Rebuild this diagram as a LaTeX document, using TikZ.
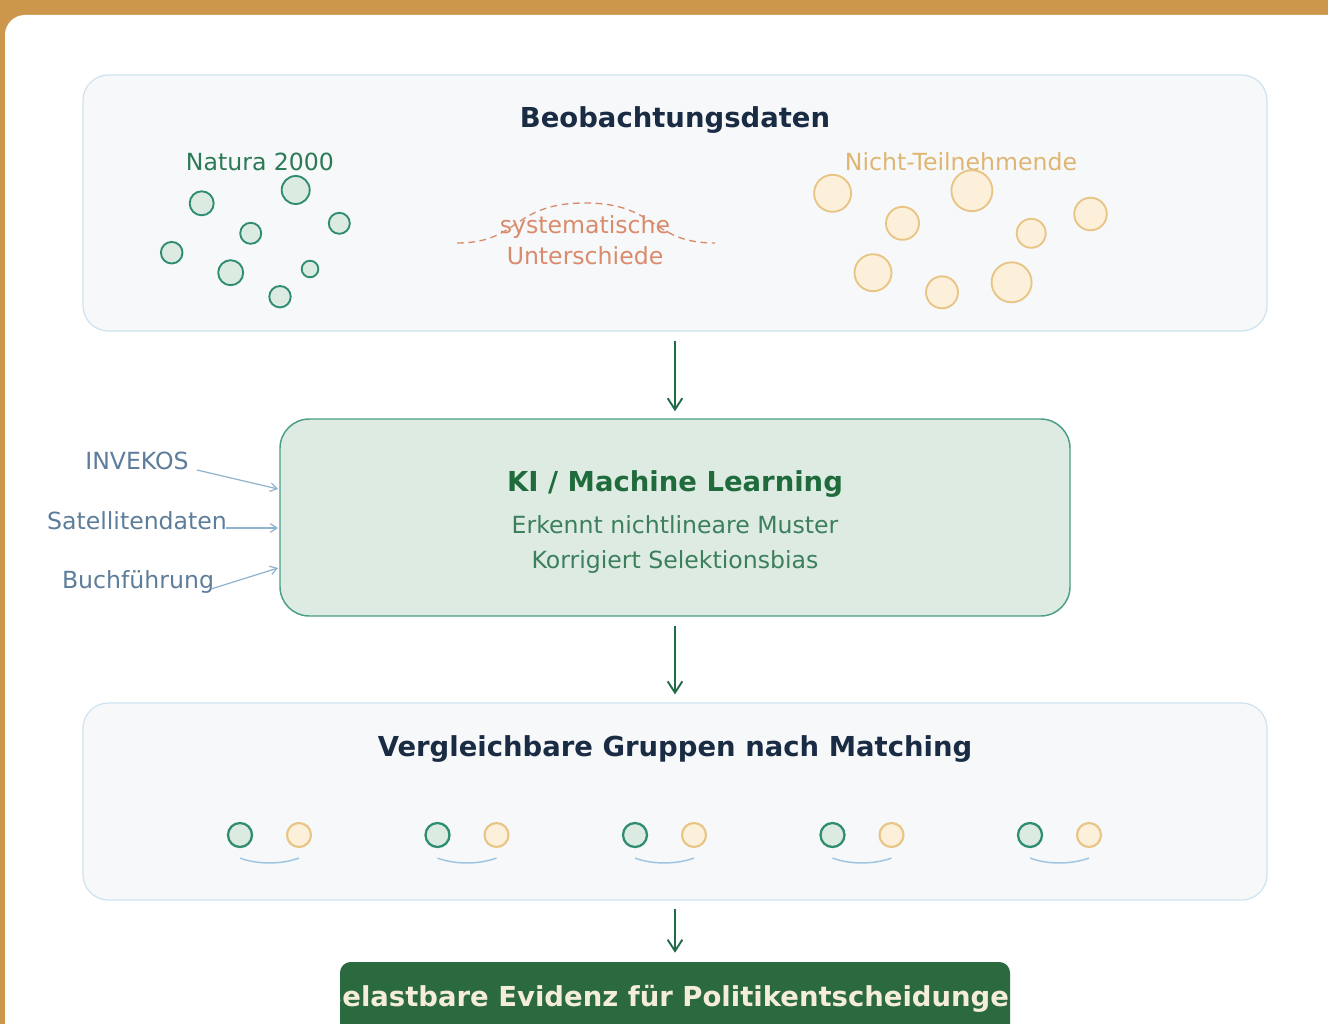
\documentclass[tikz,border=0pt]{standalone}
\usepackage{fontspec}
\setmainfont{DejaVu Sans}
\usetikzlibrary{arrows.meta}
\definecolor{bgorange}{HTML}{CC974B}
\definecolor{boxfill}{HTML}{F6F8FA}
\definecolor{boxline}{HTML}{CFE3EE}
\definecolor{navy}{HTML}{1A2B44}
\definecolor{natgreen}{HTML}{2B7A55}
\definecolor{gstroke}{HTML}{2E8C70}
\definecolor{gfill}{HTML}{DCEBE2}
\definecolor{otext}{HTML}{E0B571}
\definecolor{ostroke}{HTML}{E8C584}
\definecolor{ofill}{HTML}{FCF0DB}
\definecolor{salmon}{HTML}{D98B6C}
\definecolor{arrgreen}{HTML}{1F6B48}
\definecolor{mlfill}{HTML}{DEEBE2}
\definecolor{mlline}{HTML}{4A9F86}
\definecolor{kigreen}{HTML}{1F6B3C}
\definecolor{mltext}{HTML}{3C7F5C}
\definecolor{labtext}{HTML}{5E7D9A}
\definecolor{labarrow}{HTML}{8FB2CD}
\definecolor{evidfill}{HTML}{2B6A3E}
\definecolor{evidtext}{HTML}{F5EDDA}
\definecolor{arcblue}{HTML}{9EC6E2}
\begin{document}
\begin{tikzpicture}[x=0.75pt,y=-0.75pt,
  panel/.style={draw=boxline, fill=boxfill, line width=0.9pt, rounded corners=19pt, inner sep=0pt, minimum width=888pt},
  txt/.style={inner sep=0pt, text height=0.73em, text depth=0pt, yshift=-2.6pt, font=\fontsize{17.7}{21}\selectfont},
  ttl/.style={inner sep=0pt, text height=0.73em, text depth=0pt, yshift=-3.6pt, font=\fontsize{20.6}{25}\selectfont\bfseries},
  gdot/.style={draw=gstroke, fill=gfill, line width=1.4pt},
  odot/.style={draw=ostroke, fill=ofill, line width=1.4pt},
  pdotg/.style={circle, draw=gstroke, fill=gfill, line width=1.7pt, minimum size=18pt, inner sep=0pt},
  pdoto/.style={circle, draw=ostroke, fill=ofill, line width=1.6pt, minimum size=18pt, inner sep=0pt},
  flow/.style={draw=arrgreen, line width=1.4pt, -{Straight Barb[length=8.5pt,width=11pt]}},
  feed/.style={draw=labarrow, line width=0.9pt, -{Straight Barb[length=5pt,width=6.5pt]}},
  pairarc/.style={draw=arcblue, line width=1.1pt}
]
\useasboundingbox (0,0) rectangle (1328,1024);
\clip (0,0) rectangle (1328,1024);
% frame
\fill[bgorange] (0,0) rectangle (1328,1024);
\fill[white, rounded corners=15pt] (5,15) rectangle (1380,1080);

% top panel
\node[panel, minimum height=192pt] (obs) at (675,203) {};
\node[ttl, text=navy] (obst) at (675,118) {Beobachtungsdaten};
\node[txt, text=natgreen] (nat) at (260,162) {Natura 2000};
\node[txt, text=otext] (nicht) at (961,162) {Nicht-Teilnehmende};
% green scatter
\foreach \x/\y/\r in {201.7/203.3/12, 295.7/190/14, 250.7/233.3/10.5, 339.3/223.3/10.5, 171.7/252.7/10.8, 230.7/272.7/12.5, 310/269/8.3, 280/296.7/10.7}
  \draw[gdot] (\x,\y) circle[radius=\r];
% orange scatter
\foreach \x/\y/\r in {832.6/193.3/18.5, 971.9/190.7/20.5, 902.5/223.3/16.5, 1031.2/233.3/14.5, 1090.5/214/16.3, 873/272.7/18.5, 942/292.3/16, 1011.6/282.3/20}
  \draw[odot] (\x,\y) circle[radius=\r];
% systematic differences
\draw[salmon, line width=1pt, dash pattern=on 5pt off 3.5pt] (457,243) .. controls (520,243) and (512,203) .. (585,203) .. controls (658,203) and (650,243) .. (715,243);
\node[txt, text=salmon] (sys1) at (585,225) {systematische};
\node[txt, text=salmon] (sys2) at (585,256) {Unterschiede};

% ML box
\node[draw=mlline, fill=mlfill, line width=1.1pt, rounded corners=22pt, inner sep=0pt, minimum width=592.5pt, minimum height=147.75pt] (ml) at (675,517.5) {};
\node[ttl, text=kigreen] (mlt) at (675,482) {KI / Machine Learning};
\node[txt, text=mltext] (ml1) at (675,525) {Erkennt nichtlineare Muster};
\node[txt, text=mltext] (ml2) at (675,560) {Korrigiert Selektionsbias};

% input labels
\node[txt, text=labtext] (inv) at (137,461) {INVEKOS};
\node[txt, text=labtext] (sat) at (137,521) {Satellitendaten};
\node[txt, text=labtext] (buch) at (138,580) {Buchführung};
\coordinate (invE) at (278,489);
\coordinate (satE) at (278,528);
\coordinate (buchE) at (278,568);
\coordinate (invS) at (197,470);
\coordinate (satS) at (226,528);
\coordinate (buchS) at (211,589);
\draw[feed] (invS) -- (invE);
\draw[feed] (satS) -- (satE);
\draw[feed] (buchS) -- (buchE);

% matched panel
\node[panel, minimum height=147.75pt] (match) at (675,801.5) {};
\node[ttl, text=navy] (matcht) at (675,746.5) {Vergleichbare Gruppen nach Matching};
\foreach \i/\x in {1/240,2/437.5,3/635,4/832.5,5/1030} {
  \node[pdotg] (g\i) at (\x,835) {};
  \node[pdoto] (o\i) at (\x+59,835) {};
  \draw[pairarc] ([yshift=-7.5pt]g\i.south) .. controls +(18,6.5) and +(-18,6.5) .. ([yshift=-7.5pt]o\i.south);
}

% evidence box
\node[fill=evidfill, rounded corners=8pt, inner sep=0pt, minimum width=502.5pt, minimum height=73.5pt] (evid) at (675,1011) {};
\begin{scope}
  \clip (340,962) rectangle (1010,1060);
  \node[ttl, text=evidtext] (evidt) at (675,997) {Belastbare Evidenz für Politikentscheidungen};
\end{scope}

% flow arrows
\draw[flow] ([yshift=-6.75pt]obs.south) -- ([yshift=5.25pt]ml.north);
\draw[flow] ([yshift=-6.75pt]ml.south) -- ([yshift=6pt]match.north);
\draw[flow] ([yshift=-6pt]match.south) -- ([yshift=6.75pt]evid.north);
\end{tikzpicture}
\end{document}
